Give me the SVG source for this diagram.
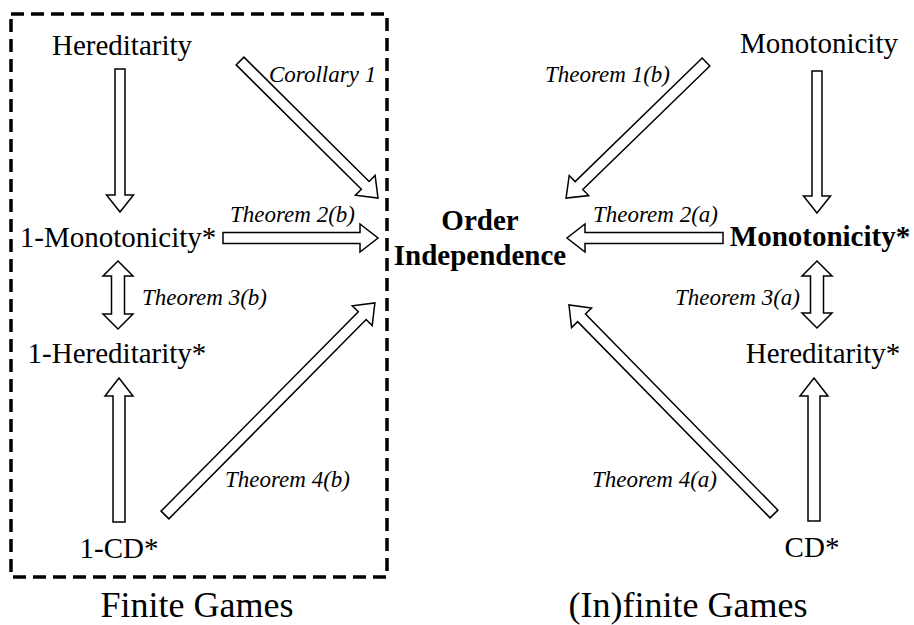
<svg xmlns="http://www.w3.org/2000/svg" width="914" height="625" viewBox="0 0 914 625">
<style>
text{font-family:'Liberation Serif','Times New Roman',Times,serif;fill:#000}
.t{font-size:29px}
.b{font-weight:bold}
.big{font-size:36px}
.lab{font-size:23px;font-style:italic}
.ar{fill:#fff;stroke:#000;stroke-width:1.5;stroke-linejoin:miter}
.box{fill:none;stroke:#000;stroke-width:3.5;stroke-dasharray:13 7}
</style>
<rect width="914" height="625" fill="#fff"/>
<rect class="box" x="11" y="14" width="376" height="563"/>
<g id="connectors">
<path class="ar" transform="translate(120,69) rotate(90)" d="M0,-5 H126 V-13.5 L143,0 L126,13.5 V5 H0 Z"/>
<path class="ar" transform="translate(240,61) rotate(44.8)" d="M0,-5.5 H176.5 V-14 L194.5,0 L176.5,14 V5.5 H0 Z"/>
<path class="ar" transform="translate(223,238)" d="M0,-5.5 H137 V-14 L155,0 L137,14 V5.5 H0 Z"/>
<path class="ar" transform="translate(118,261) rotate(90)" d="M0,0 L15,-15 V-6.5 H53 V-15 L68,0 L53,15 V6.5 H15 V15 Z"/>
<path class="ar" transform="translate(119,522) rotate(-90)" d="M0,-6 H126 V-14 L144,0 L126,14 V6 H0 Z"/>
<path class="ar" transform="translate(165,515) rotate(-45.3)" d="M0,-5.5 H280.4 V-14 L298.4,0 L280.4,14 V5.5 H0 Z"/>
<path class="ar" transform="translate(706,62) rotate(135.8)" d="M0,-5.5 H177.2 V-14 L195.2,0 L177.2,14 V5.5 H0 Z"/>
<path class="ar" transform="translate(817,71) rotate(90)" d="M0,-5 H125 V-13.5 L142,0 L125,13.5 V5 H0 Z"/>
<path class="ar" transform="translate(723,238) rotate(180)" d="M0,-5.5 H138 V-14 L156,0 L138,14 V5.5 H0 Z"/>
<path class="ar" transform="translate(817,261) rotate(90)" d="M0,0 L15,-15 V-6.5 H52 V-15 L67,0 L52,15 V6.5 H15 V15 Z"/>
<path class="ar" transform="translate(814,521) rotate(-90)" d="M0,-6 H125 V-14 L143,0 L125,14 V6 H0 Z"/>
<path class="ar" transform="translate(774,514) rotate(-134.45)" d="M0,-5.5 H274.8 V-14 L292.8,0 L274.8,14 V5.5 H0 Z"/>
</g>
<g id="labels">
<text class="lab" x="269" y="82">Corollary 1</text>
<text class="lab" x="545" y="82">Theorem 1(b)</text>
<text class="lab" x="230" y="222">Theorem 2(b)</text>
<text class="lab" x="593" y="222">Theorem 2(a)</text>
<text class="lab" x="142" y="305">Theorem 3(b)</text>
<text class="lab" x="800" y="305" text-anchor="end">Theorem 3(a)</text>
<text class="lab" x="225" y="487">Theorem 4(b)</text>
<text class="lab" x="592" y="487">Theorem 4(a)</text>
</g>
<g id="hereditarity"><text class="t" x="122" y="55" text-anchor="middle">Hereditarity</text></g>
<g id="one-monotonicity"><text class="t" x="118" y="247" text-anchor="middle">1-Monotonicity*</text></g>
<g id="one-hereditarity"><text class="t" x="117" y="363" text-anchor="middle">1-Hereditarity*</text></g>
<g id="one-cd"><text class="t" x="119" y="558" text-anchor="middle">1-CD*</text></g>
<g id="order-independence"><text class="t b" x="480" y="230" text-anchor="middle">Order</text><text class="t b" x="480" y="265" text-anchor="middle">Independence</text></g>
<g id="monotonicity"><text class="t" x="819" y="53" text-anchor="middle">Monotonicity</text></g>
<g id="monotonicity-star"><text class="t b" x="820" y="246" text-anchor="middle">Monotonicity*</text></g>
<g id="hereditarity-star"><text class="t" x="823" y="363" text-anchor="middle">Hereditarity*</text></g>
<g id="cd-star"><text class="t" x="812" y="557" text-anchor="middle">CD*</text></g>
<g id="finite-games"><text class="t big" x="197" y="617" text-anchor="middle">Finite Games</text></g>
<g id="infinite-games"><text class="t big" x="688" y="617" text-anchor="middle">(In)finite Games</text></g>
</svg>
